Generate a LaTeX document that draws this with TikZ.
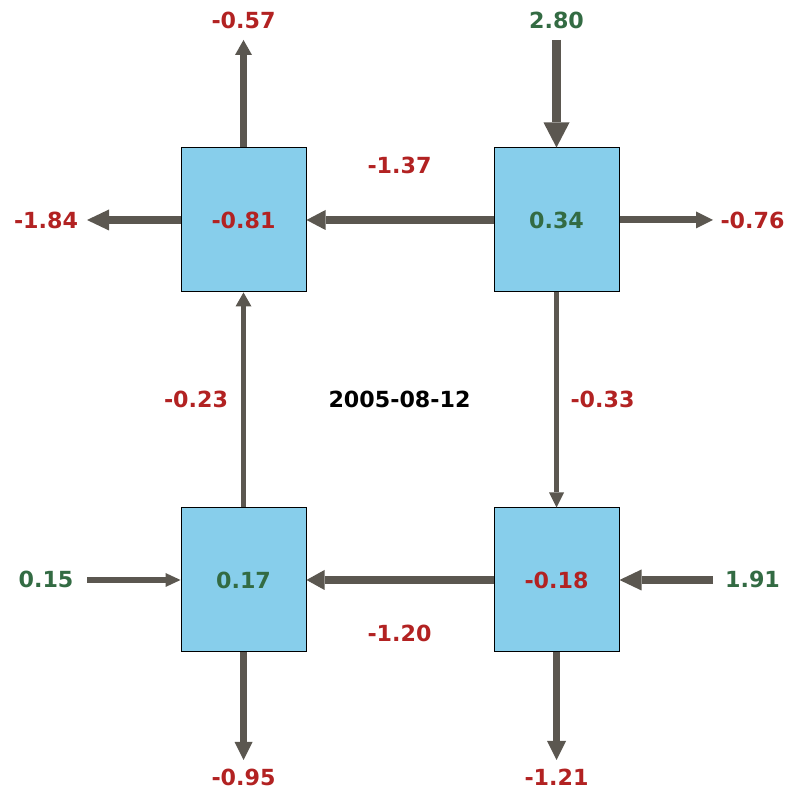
\documentclass[tikz,border=0pt]{standalone}
\usepackage{fontspec}
\setmainfont{DejaVu Sans}
\usetikzlibrary{positioning, arrows.meta}
\definecolor{fRed}{HTML}{B22222}
\definecolor{fGreen}{HTML}{336B43}
\definecolor{fArrow}{HTML}{5B5750}
\definecolor{fBox}{HTML}{87CEEB}

\begin{document}
\begin{tikzpicture}[
  x=1pt, y=1pt,
  every node/.style={font=\fontsize{22.2}{26}\selectfont\bfseries, inner sep=0pt},
  cell/.style={draw=black, fill=fBox, line width=1pt,
               minimum width=125pt, minimum height=144pt},
  loss/.style={text=fRed},
  gain/.style={text=fGreen},
  flow/.style n args={3}{draw=fArrow, line width=#1,
               -{Triangle[length=#2, width=#3, line width=0pt]}},
]
  % Frame
  \useasboundingbox (0,0) rectangle (800,800);

  % Cells
  \node[cell, loss] (nw) at (243.5,580) {-0.81};
  \node[cell, gain] (ne) at (556.5,580) {0.34};
  \node[cell, gain] (sw) at (243.5,220) {0.17};
  \node[cell, loss] (se) at (556.5,220) {-0.18};

  % Date
  \node (date) at (399.5,401) {2005-08-12};

  % Outer ends
  \coordinate (nwUp) at (243.5,760);
  \coordinate (nwLeft) at (87,580);
  \coordinate (neIn) at (556.5,760);
  \coordinate (neRight) at (713,580);
  \coordinate (swIn) at (87,220);
  \coordinate (swDown) at (243.5,40);
  \coordinate (seIn) at (713,220);
  \coordinate (seDown) at (556.5,40);

  % Flows between cells
  \draw[flow={8pt}{19pt}{20pt}] (ne.west) -- (nw.east);
  \draw[flow={5pt}{15pt}{15pt}] (ne.south) -- (se.north);
  \draw[flow={5.5pt}{14pt}{16pt}] (sw.north) -- (nw.south);
  \draw[flow={7.5pt}{18pt}{20pt}] (se.west) -- (sw.east);

  % Flows across the border
  \draw[flow={7pt}{15pt}{17pt}] (nw.north) -- (nwUp);
  \draw[flow={8pt}{22pt}{21pt}] (nw.west) -- (nwLeft);
  \draw[flow={9.5pt}{25pt}{26pt}] (neIn) -- (ne.north);
  \draw[flow={7pt}{17pt}{17pt}] (ne.east) -- (neRight);
  \draw[flow={6pt}{15pt}{14pt}] (swIn) -- (sw.west);
  \draw[flow={8pt}{22pt}{21pt}] (seIn) -- (se.east);
  \draw[flow={7pt}{18pt}{18pt}] (sw.south) -- (swDown);
  \draw[flow={7pt}{19pt}{19pt}] (se.south) -- (seDown);

  % Flow values
  \node[loss] (vNwUp) at (243.5,779.5) {-0.57};
  \node[loss] (vNwLeft) at (46,580) {-1.84};
  \node[gain] (vNeIn) at (556.5,779.5) {2.80};
  \node[loss] (vNeRight) at (752.5,580) {-0.76};
  \node[gain] (vSwIn) at (46,221) {0.15};
  \node[gain] (vSeIn) at (752.5,221) {1.91};
  \node[loss] (vSwDown) at (243.5,22.5) {-0.95};
  \node[loss] (vSeDown) at (556.5,22.5) {-1.21};
  \node[loss] (vTop) at (399.5,635) {-1.37};
  \node[loss] (vBottom) at (399.5,167) {-1.20};
  \node[loss] (vLeft) at (196,401) {-0.23};
  \node[loss] (vRight) at (602.5,401) {-0.33};
\end{tikzpicture}
\end{document}
